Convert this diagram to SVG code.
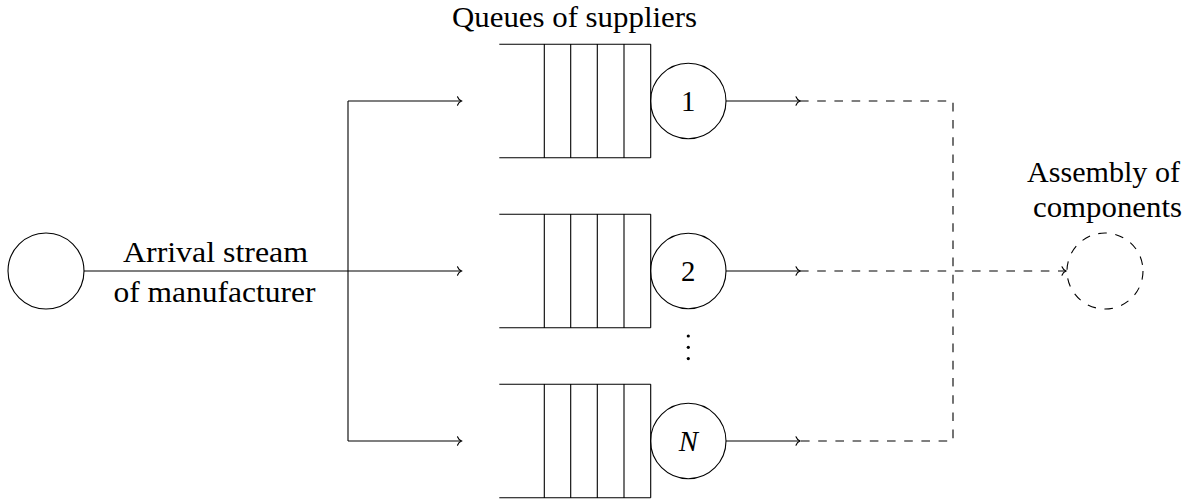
<svg xmlns="http://www.w3.org/2000/svg" width="1188" height="499" viewBox="0 0 1188 499">
<style>
.ln{fill:none;stroke:#000;stroke-width:1.1}
.dash{fill:none;stroke:#000;stroke-width:1.1;stroke-dasharray:8.6 8.6}
text{font-family:'Liberation Serif','Times New Roman','DejaVu Serif',serif;font-size:28.8px;fill:#000}
.c{text-anchor:middle}
</style>
<defs>
<marker id="to" markerUnits="userSpaceOnUse" markerWidth="12" markerHeight="12" viewBox="-6 -6 12 12" refX="0" refY="0" orient="auto" overflow="visible">
<path d="M-4,-4.2 C-3.2,-2 -1.4,-0.6 0,0 C-1.4,0.6 -3.2,2 -4,4.2" fill="none" stroke="#000" stroke-width="1.1" stroke-linecap="round"/>
</marker>
<g id="q">
<path class="ln" d="M499.3,-56.7 H650.7 M499.3,56.7 H650.7 M544.3,-56.7 V56.7 M570.7,-56.7 V56.7 M597.3,-56.7 V56.7 M624,-56.7 V56.7 M650.7,-56.7 V56.7"/>
<circle class="ln" cx="688.3" cy="0" r="37.7"/>
</g>
</defs>
<rect width="1188" height="499" fill="#fff"/>

<g id="connectors">
<path class="ln" d="M84,271 H461.5" marker-end="url(#to)"/>
<path class="ln" d="M348,101 V441"/>
<path class="ln" d="M348,101 H461.5" marker-end="url(#to)"/>
<path class="ln" d="M348,441 H461.5" marker-end="url(#to)"/>
<path class="ln" d="M726,101 H800" marker-end="url(#to)"/>
<path class="ln" d="M726,271 H800" marker-end="url(#to)"/>
<path class="ln" d="M726,441 H800" marker-end="url(#to)"/>
<path class="dash" d="M800,101 H953 V441 H800"/>
<path class="dash" d="M800,271 H1066" marker-end="url(#to)"/>
</g>

<g id="source" font-family="Liberation Serif, serif">
<circle class="ln" cx="46" cy="271" r="38"/>
<text class="c" x="215.5" y="262" textLength="185" lengthAdjust="spacingAndGlyphs">Arrival stream</text>
<text class="c" x="214.5" y="302" textLength="202" lengthAdjust="spacingAndGlyphs">of manufacturer</text>
</g>

<g id="queues-label">
<text class="c" x="574.5" y="27.3" textLength="245" lengthAdjust="spacingAndGlyphs">Queues of suppliers</text>
</g>

<g id="queue1">
<use href="#q" y="101"/>
<text class="c" x="688.3" y="111">1</text>
</g>

<g id="queue2">
<use href="#q" y="271"/>
<text class="c" x="688.3" y="281">2</text>
</g>

<g id="ellipsis">
<circle cx="688.3" cy="336" r="1.6" fill="#000"/>
<circle cx="688.3" cy="347.3" r="1.6" fill="#000"/>
<circle cx="688.3" cy="358.6" r="1.6" fill="#000"/>
</g>

<g id="queueN">
<use href="#q" y="441"/>
<text class="c" x="688.3" y="451" font-style="italic">N</text>
</g>

<g id="assembly">
<circle class="dash" cx="1105" cy="271" r="38"/>
<text class="c" x="1103.5" y="181.7" textLength="153" lengthAdjust="spacingAndGlyphs">Assembly of</text>
<text class="c" x="1107.5" y="216.7" textLength="149" lengthAdjust="spacingAndGlyphs">components</text>
</g>
</svg>
